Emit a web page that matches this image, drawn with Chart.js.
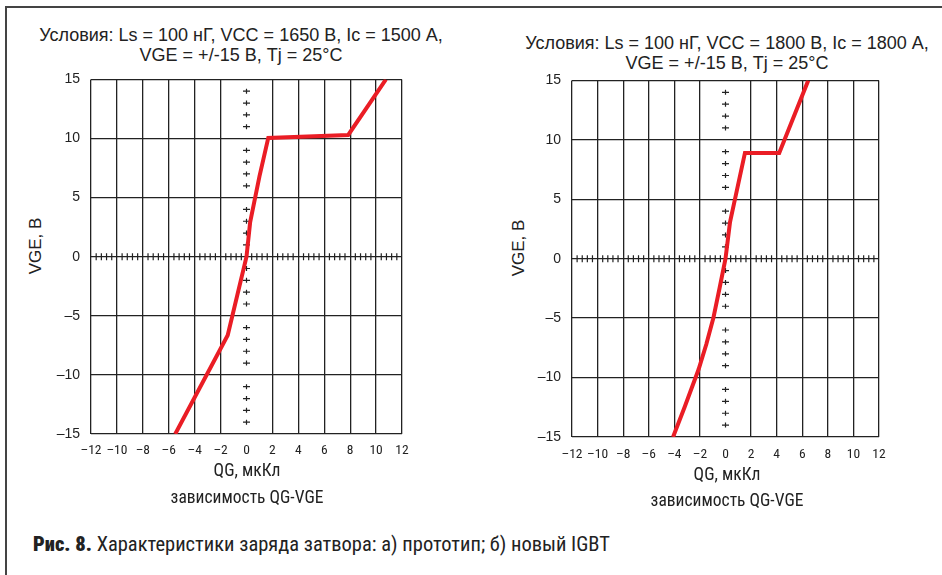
<!DOCTYPE html>
<html><head><meta charset="utf-8">
<script src="https://cdn.jsdelivr.net/npm/chart.js@4"></script>
<style>
html,body{margin:0;padding:0;background:#fff;}
body{width:942px;height:575px;position:relative;overflow:hidden;font-family:"Liberation Sans",Arial,sans-serif;color:#222;}
.fr-top{position:absolute;left:5px;top:6px;width:937px;height:2px;background:#444;}
.fr-left{position:absolute;left:5px;top:6px;width:2px;height:569px;background:#444;}
.box{position:absolute;}
.t{position:absolute;white-space:nowrap;transform:translate(-50%,-50%);}
.title{font-size:18px;line-height:20px;text-align:center;}
.ylab{font-size:17px;transform:translate(-50%,-50%) rotate(-90deg);}
.narrow{font-family:"Liberation Sans Narrow","Arial Narrow","Roboto Condensed",Roboto,sans-serif;}
.xlab{font-size:17.5px;}
.cap{position:absolute;left:33px;top:532px;font-size:20.5px;white-space:nowrap;}
.cap b{font-weight:900;}
</style>
</head><body>
<div class="fr-top"></div><div class="fr-left"></div>

<div class="t title" style="left:241px;top:45px;">Условия: Ls = 100 нГ, VCC = 1650 В, Ic = 1500 А,<br>VGE = +/-15 В, Tj = 25°C</div>
<div class="t title" style="left:727px;top:53px;">Условия: Ls = 100 нГ, VCC = 1800 В, Ic = 1800 А,<br>VGE = +/-15 В, Tj = 25°C</div>

<div class="t ylab" style="left:36px;top:246px;">VGE, В</div>
<div class="t ylab" style="left:519px;top:248px;">VGE, В</div>

<div class="box" style="left:20px;top:60px;"><canvas id="cA" width="400" height="404"></canvas></div>
<div class="box" style="left:500px;top:61px;"><canvas id="cB" width="400" height="406"></canvas></div>

<div class="t narrow xlab" style="left:247px;top:470px;">QG, мкКл</div>
<div class="t narrow xlab" style="left:247px;top:497px;">зависимость QG-VGE</div>
<div class="t narrow xlab" style="left:727px;top:474px;">QG, мкКл</div>
<div class="t narrow xlab" style="left:727px;top:500px;">зависимость QG-VGE</div>

<div class="cap narrow"><b>Рис. 8.</b> Характеристики заряда затвора: а) прототип; б) новый IGBT</div>

<script>
// ---- data ----
const xTicks = [-12,-10,-8,-6,-4,-2,0,2,4,6,8,10,12];
const yTicks = [-15,-10,-5,0,5,10,15];
// (a) prototype
const qgA  = [-5.5, -1.45, 0, 0.28, 1.0, 1.68, 7.85, 10.76];
const vgeA = [-15, -6.65, 0, 2.9, 6.8, 10.05, 10.3, 15];
// (b) new IGBT
const qgB  = [-4.1, -3.2, -2.1, -1.5, -0.95, -0.45, 0, 0.35, 1.52, 4.2, 6.47];
const vgeB = [-15, -12.5, -9.3, -7.2, -5.0, -2.4, 0, 3.05, 8.9, 8.9, 15];
const xMinorStep = 0.4, yMinorStep = 1;

const fmt = v => v < 0 ? '\u2013' + (-v) : String(v);
const NARROW = '"Liberation Sans Narrow","Arial Narrow","Roboto Condensed",Roboto,sans-serif';
const REG = '"Liberation Sans",Arial,sans-serif';
const INK = '#222';

const minorTicks = {
  id: 'minorTicks',
  beforeDatasetsDraw(chart) {
    const {ctx, scales: {x, y}} = chart;
    const x0 = x.getPixelForValue(0), y0 = y.getPixelForValue(0);
    ctx.save();
    ctx.strokeStyle = INK; ctx.lineWidth = 1.2;
    ctx.beginPath();
    const nx = Math.round(12 / xMinorStep);
    for (let i = -nx; i <= nx; i++) {
      if (i % 5 === 0) continue;
      const px = x.getPixelForValue(i * xMinorStep);
      ctx.moveTo(px, y0 - 3.5); ctx.lineTo(px, y0 + 3.5);
    }
    for (let v = -14; v <= 14; v += yMinorStep) {
      if (v % 5 === 0) continue;
      const py = y.getPixelForValue(v);
      ctx.moveTo(x0 - 3.5, py); ctx.lineTo(x0 + 3.5, py);
      ctx.moveTo(x0, py - 2.5); ctx.lineTo(x0, py + 2.5);
    }
    ctx.stroke();
    ctx.restore();
  }
};

function makeChart(id, xs, ys, yWidth, padRight, xPad) {
  const pts = xs.map((v, i) => ({x: v, y: ys[i]}));
  return new Chart(document.getElementById(id), {
    type: 'scatter',
    data: {datasets: [{data: pts, showLine: true, borderColor: '#ea1d25', borderWidth: 4,
      pointRadius: 0, tension: 0, borderJoinStyle: 'miter', borderCapStyle: 'butt'}]},
    options: {
      responsive: false, animation: false,
      layout: {padding: {top: 15, right: padRight, left: 0, bottom: 0}},
      plugins: {legend: {display: false}, tooltip: {enabled: false}},
      scales: {
        x: {
          type: 'linear', min: -12, max: 12,
          afterBuildTicks: s => { s.ticks = xTicks.map(v => ({value: v})); },
          afterFit: s => { s.height = 30; },
          border: {display: false},
          grid: {drawTicks: false, lineWidth: 1.3,
            color: c => (c.tick && c.tick.value === 0) ? 'rgba(0,0,0,0)' : INK},
          ticks: {padding: xPad, color: INK, autoSkip: false, maxRotation: 0,
            font: {family: NARROW, size: 13.5}, callback: v => fmt(v)}
        },
        y: {
          type: 'linear', min: -15, max: 15,
          afterBuildTicks: s => { s.ticks = yTicks.map(v => ({value: v})); },
          afterFit: s => { s.width = yWidth; },
          border: {display: false},
          grid: {drawTicks: false, lineWidth: 1.3, color: INK},
          ticks: {padding: 11, color: INK, font: {family: REG, size: 14}, callback: v => fmt(v)}
        }
      }
    },
    plugins: [minorTicks]
  });
}

makeChart('cA', qgA, vgeA, 71, 18, 9);
makeChart('cB', qgB, vgeB, 72, 21, 10);
</script>
</body></html>
